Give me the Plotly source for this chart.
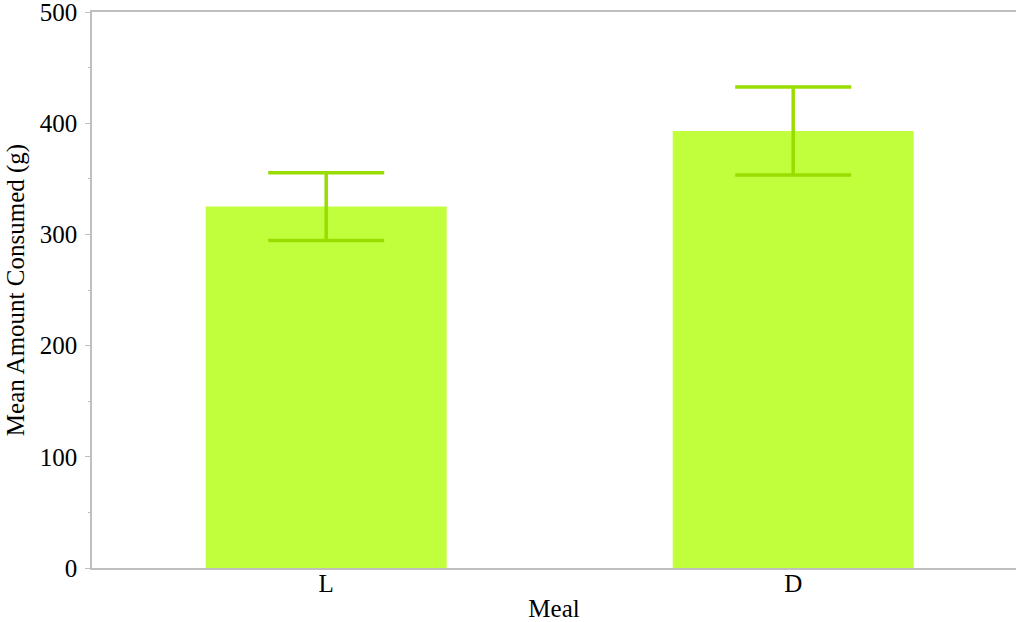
import plotly.graph_objects as go

# Mean amount consumed per meal, with error bars
meals = ["L", "D"]
mean_consumed = [325, 393]
error_consumed = [30.5, 39.5]

fig = go.Figure()
fig.add_trace(go.Bar(
    x=[0, 1],
    y=mean_consumed,
    width=0.516,
    marker=dict(color="#C1FF3C", line=dict(width=0)),
    error_y=dict(type="data", array=error_consumed, visible=True,
                 color="#99DD00", thickness=3.5, width=58),
    showlegend=False,
))

font_family = "Liberation Serif, Times New Roman, serif"
fsize = 25

fig.update_layout(
    width=1016, height=622,
    margin=dict(l=92, r=0, t=12, b=54),
    paper_bgcolor="white",
    plot_bgcolor="white",
    font=dict(family=font_family, size=fsize, color="black"),
    xaxis=dict(
        range=[-0.5015, 1.4771],
        tickmode="array", tickvals=[0, 1], ticktext=meals,
        showline=True, linecolor="#BFBFBF", linewidth=1.5, mirror=True,
        showgrid=False, zeroline=False, ticks="",
        ticklabelstandoff=-8,
        title=dict(text="Meal", font=dict(size=fsize), standoff=8),
        tickfont=dict(size=fsize),
    ),
    yaxis=dict(
        range=[0, 500],
        tickmode="linear", tick0=0, dtick=100,
        showline=True, linecolor="#BFBFBF", linewidth=1.5,
        showgrid=False, zeroline=False,
        ticks="outside", ticklen=5, tickcolor="#BFBFBF", tickwidth=1,
        minor=dict(dtick=50, ticks="outside", ticklen=2, tickcolor="#BFBFBF", tickwidth=1),
        ticklabeloverflow="allow",
        ticklabelstandoff=3,
        title=dict(text="Mean Amount Consumed (g)", font=dict(size=fsize), standoff=8),
        tickfont=dict(size=fsize),
    ),
)

fig.write_html("out.html")
